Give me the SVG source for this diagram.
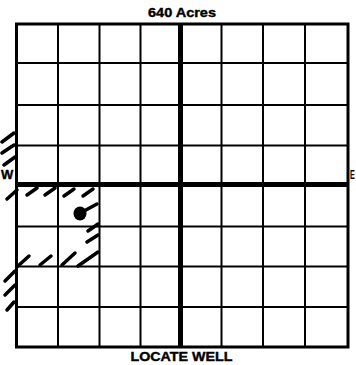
<svg xmlns="http://www.w3.org/2000/svg" width="356" height="365" viewBox="0 0 356 365">
<style>
.g{stroke:#000;stroke-width:2;fill:none}
.b{stroke:#000;stroke-width:3;fill:none}
.c{stroke:#000;stroke-width:5;fill:none}
.h{stroke:#000;stroke-width:3.5;stroke-linecap:round;fill:none}
.t{font-family:"Liberation Sans",Arial,sans-serif;font-weight:bold;fill:#000;stroke:#000;stroke-width:0.4}
</style>
<rect width="356" height="365" fill="#fff"/>
<g id="grid">
<path class="g" d="M58 24V347M99.5 24V347M140.5 24V347M221.5 24V347M263 24V347M305 24V347"/>
<path class="g" d="M16.5 63H348M16.5 105H348M16.5 145.5H348M16.5 226.5H348M16.5 266.5H348M16.5 307H348"/>
<path class="c" d="M180.5 24V347M16.5 184.5H348"/>
<rect class="b" x="16.5" y="24" width="331.5" height="323"/>
</g>
<g id="hatching">
<path class="h" d="M2 142L14 133M2 153L14 145M4 165L15 157"/>
<path class="h" d="M7 199L17 190M27 195L37 188M45 195L55 188M64 196L74 189M83 196L93 189"/>
<path class="h" d="M88 231L98 224M87 242L98 235"/>
<path class="h" d="M18 266L29 256M40 265L51 256M62 265L75 253M78 266L98 252"/>
<path class="h" d="M5 281L15 271M5 295L15 285M7 310L14 302"/>
</g>
<g id="well">
<ellipse cx="80" cy="213.5" rx="6.5" ry="7" fill="#000"/>
<path class="h" d="M84 211L97 204"/>
</g>
<g id="labels">
<text class="t" x="182" y="16.5" font-size="13" text-anchor="middle" textLength="68" lengthAdjust="spacingAndGlyphs">640 Acres</text>
<text class="t" x="181.5" y="360.5" font-size="13" text-anchor="middle" textLength="102" lengthAdjust="spacingAndGlyphs">LOCATE WELL</text>
<text class="t" x="1" y="178.5" font-size="13">W</text>
<text transform="translate(350 179) scale(0.6 1)" x="0" y="0" font-size="12" font-family="Liberation Sans, Arial, sans-serif" font-weight="bold">E</text>
</g>
</svg>
